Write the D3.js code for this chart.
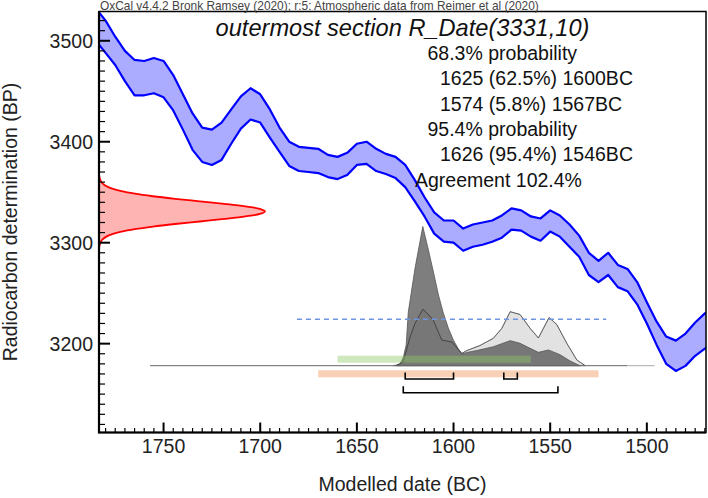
<!DOCTYPE html>
<html><head><meta charset="utf-8">
<script src="https://cdn.jsdelivr.net/npm/d3@7"></script>
<style>
body{margin:0;background:#fff}
svg{display:block}
text{font-family:"Liberation Sans",Arial,sans-serif}
</style>
</head><body>
<svg id="chart" width="708" height="498"></svg>
<script>
// ---------- data ----------
const calYears = [1785,1780,1775,1770,1765,1760,1755,1750,1745,1740,1735,1730,1725,1720,1715,1710,1705,1700,1695,1690,1685,1680,1675,1670,1665,1660,1655,1650,1645,1640,1635,1630,1625,1620,1615,1610,1605,1600,1595,1590,1585,1580,1575,1570,1565,1560,1555,1550,1545,1540,1535,1530,1525,1520,1515,1510,1505,1500,1495,1490,1485,1480,1475,1470,1465];
const calUpper = [3532,3520,3504,3490,3481,3480,3483,3480,3466,3447,3428,3414,3412,3419,3432,3445,3453,3447,3432,3414,3400,3395,3394,3393,3387,3385,3389,3398,3400,3393,3388,3385,3377,3362,3345,3330,3322,3322,3314,3318,3320,3322,3327,3334,3332,3326,3324,3332,3327,3318,3307,3290,3282,3290,3278,3274,3261,3241,3222,3207,3203,3210,3221,3230,3237];
const calLower = [3500,3488,3476,3460,3446,3446,3448,3444,3431,3412,3392,3380,3377,3382,3398,3413,3422,3419,3404,3390,3376,3371,3370,3369,3365,3363,3367,3377,3378,3371,3368,3364,3355,3341,3326,3309,3301,3300,3292,3296,3298,3301,3305,3313,3312,3306,3302,3311,3306,3296,3286,3268,3261,3268,3256,3252,3239,3220,3199,3180,3173,3178,3188,3195,3201];

const rDateBP   = [3296,3298.5,3301,3303.5,3306,3308.5,3311,3313.5,3316,3318.5,3321,3323.5,3326,3328.5,3331,3333.5,3336,3338.5,3341,3343.5,3346,3348.5,3351,3353.5,3356,3358.5,3361,3363.5,3366];
const rDateProb = [0.002,0.005,0.011,0.023,0.044,0.080,0.135,0.216,0.325,0.458,0.607,0.755,0.882,0.969,1,0.969,0.882,0.755,0.607,0.458,0.325,0.216,0.135,0.080,0.044,0.023,0.011,0.005,0.002];

const likeYears = [1629.7,1626.1,1622.5,1619.9,1615.9,1613.2,1610.4,1608.1,1606.1,1600.9,1595.7,1593.1,1586.3,1579.4,1575.0,1570.7,1565.6,1560.4,1556.1,1550.6,1546.6,1541.4,1536.2,1531.9];
const likeProb  = [0,0.027,0.206,0.305,0.405,0.371,0.325,0.249,0.185,0.170,0.088,0.109,0.145,0.197,0.269,0.388,0.368,0.269,0.199,0.346,0.296,0.161,0.041,0];

const postYears = [1631,1627.7,1625.9,1624.5,1623.4,1619.9,1615.9,1613.0,1610.4,1607.8,1605.3,1602.7,1600.1,1597.8,1595.7,1593.1,1588.0,1579.4,1570.7,1565.6,1560.4,1556.1,1550.9,1544.9,1539.7,1534.5];
const postProb  = [0,0.012,0.063,0.149,0.386,0.702,1,0.831,0.673,0.508,0.379,0.271,0.185,0.127,0.084,0.095,0.109,0.136,0.180,0.161,0.125,0.096,0.113,0.079,0.034,0];

const xTicksMajor = [1750,1700,1650,1600,1550,1500];
const yTicksMajor = [3500,3400,3300,3200];
const range68 = [[1625,1600],[1574,1567]];
const range95 = [[1626,1546]];
const greenRange = [1660,1560];
const orangeRange = [1670,1525];
const dashedRange = [1681,1521];
const dashedLevel = 0.334;
const baselineDark = [1757,1510];
const baselineLight = [1510,1496];

const headerText = "OxCal v4.4.2 Bronk Ramsey (2020); r:5: Atmospheric data from Reimer et al (2020)";
const titleText = "outermost section R_Date(3331,10)";
const infoLines = ["68.3% probability","1625 (62.5%) 1600BC","1574 (5.8%) 1567BC","95.4% probability","1626 (95.4%) 1546BC","Agreement 102.4%"];
const infoIndent = [1,2,2,1,2,0];
const xLabel = "Modelled date (BC)";
const yLabel = "Radiocarbon determination (BP)";

// ---------- layout ----------
const L = 99, R = 706, T = 11.5, B = 432.5;
const svg = d3.select("#chart");
const x = d3.scaleLinear().domain([1783.4, 1469.4]).range([L, R]);
const y = d3.scaleLinear().domain([3112, 3529]).range([B, T]);
const distBase = 365.7, distH = 139.2;
const dy = d3.scaleLinear().domain([0, 1]).range([distBase, distBase - distH]);
const rx = d3.scaleLinear().domain([0, 1]).range([L, L + 166]);

svg.append("defs").append("clipPath").attr("id","clip")
  .append("rect").attr("x",L).attr("y",T).attr("width",R-L).attr("height",B-T);
const g = svg.append("g").attr("clip-path","url(#clip)");

// orange bar
g.append("rect").attr("x",x(orangeRange[0])).attr("width",x(orangeRange[1])-x(orangeRange[0]))
  .attr("y",370.3).attr("height",7).attr("fill","rgb(240,150,90)").attr("fill-opacity",0.45);

// distributions
const like = likeYears.map((d,i)=>({yr:d,p:likeProb[i]}));
const post = postYears.map((d,i)=>({yr:d,p:postProb[i]}));
const area = d3.area().x(d=>x(d.yr)).y0(distBase).y1(d=>dy(d.p));
const line = d3.line().x(d=>x(d.yr)).y(d=>dy(d.p));
g.append("path").datum(like).attr("d",area).attr("fill","#e2e2e2").attr("stroke","#999").attr("stroke-width",0.8);
g.append("path").datum(post).attr("d",area).attr("fill","#555").attr("fill-opacity",0.76).attr("stroke","#555").attr("stroke-width",0.8);
g.append("path").datum(like).attr("d",line).attr("fill","none").attr("stroke","#333").attr("stroke-width",0.8).attr("stroke-opacity",0.8);

// green bar
g.append("rect").attr("x",x(greenRange[0])).attr("width",x(greenRange[1])-x(greenRange[0]))
  .attr("y",355.7).attr("height",7).attr("fill","rgb(140,200,100)").attr("fill-opacity",0.42);

// baseline
g.append("line").attr("x1",x(baselineDark[0])).attr("x2",x(baselineDark[1])).attr("y1",distBase).attr("y2",distBase)
  .attr("stroke","#666").attr("stroke-width",1);
g.append("line").attr("x1",x(baselineLight[0])).attr("x2",x(baselineLight[1])).attr("y1",distBase).attr("y2",distBase)
  .attr("stroke","#aaa").attr("stroke-width",1);

// dashed line
g.append("line").attr("x1",x(dashedRange[0])).attr("x2",x(dashedRange[1])).attr("y1",dy(dashedLevel)).attr("y2",dy(dashedLevel))
  .attr("stroke","#6f93dd").attr("stroke-width",1.4).attr("stroke-dasharray","5,4");

// brackets
function bracket(r, yy){
  g.append("path").attr("d",`M${x(r[0])},${yy-6.5}V${yy}H${x(r[1])}V${yy-6.5}`)
   .attr("fill","none").attr("stroke","#000").attr("stroke-width",1.6);
}
range68.forEach(r=>bracket(r,379));
range95.forEach(r=>bracket(r,392.7));

// red R_Date distribution
const rd = rDateBP.map((d,i)=>({bp:d,p:rDateProb[i]}));
g.append("path").datum(rd)
  .attr("d",d3.area().y(d=>y(d.bp)).x0(L).x1(d=>rx(d.p)).curve(d3.curveCatmullRom))
  .attr("fill","#ffb4b4").attr("stroke","none");
g.append("path").datum(rd)
  .attr("d",d3.line().y(d=>y(d.bp)).x(d=>rx(d.p)).curve(d3.curveCatmullRom))
  .attr("fill","none").attr("stroke","#ff0000").attr("stroke-width",1.8);

// calibration curve band
const cal = calYears.map((d,i)=>({yr:d,u:calUpper[i],l:calLower[i]}));
g.append("path").datum(cal)
  .attr("d",d3.area().x(d=>x(d.yr)).y0(d=>y(d.l)).y1(d=>y(d.u)))
  .attr("fill","#ababff");
["u","l"].forEach(k=>{
  g.append("path").datum(cal)
    .attr("d",d3.line().x(d=>x(d.yr)).y(d=>y(d[k])))
    .attr("fill","none").attr("stroke","#0000ff").attr("stroke-width",2.2).attr("stroke-linejoin","round");
});

// frame
svg.append("rect").attr("x",L).attr("y",T).attr("width",R-L).attr("height",B-T)
  .attr("fill","none").attr("stroke","#000").attr("stroke-width",1.5);
svg.append("path").attr("d",`M${L},${T}V${B}H${R}`).attr("fill","none").attr("stroke","#000").attr("stroke-width",2.2);

// y ticks (inside)
const yAll = d3.range(3120, 3530, 10);
svg.append("g").selectAll("line").data(yAll).join("line")
  .attr("x1",L).attr("x2",d=>L+(yTicksMajor.includes(d)?11:6))
  .attr("y1",d=>y(d)).attr("y2",d=>y(d)).attr("stroke","#000").attr("stroke-width",d=>yTicksMajor.includes(d)?2:1.2);
svg.append("g").selectAll("text").data(yTicksMajor).join("text")
  .attr("x",93).attr("y",d=>y(d)+7).attr("text-anchor","end").attr("font-size",19.5).attr("fill","#222").text(d=>d);

// x ticks (inside)
const xAll = d3.range(1470, 1785, 5);
svg.append("g").selectAll("line").data(xAll).join("line")
  .attr("x1",d=>x(d)).attr("x2",d=>x(d)).attr("y1",B).attr("y2",d=>B-(xTicksMajor.includes(d)?10:4.5))
  .attr("stroke","#000").attr("stroke-width",d=>xTicksMajor.includes(d)?2:1.2);
svg.append("g").selectAll("text").data(xTicksMajor).join("text")
  .attr("x",d=>x(d)).attr("y",452.5).attr("text-anchor","middle").attr("font-size",19.5).attr("fill","#222").text(d=>d);

// axis titles
svg.append("text").attr("x",(L+R)/2).attr("y",491).attr("text-anchor","middle").attr("font-size",19.5).attr("fill","#222").text(xLabel);
svg.append("text").attr("transform",`translate(17,${(T+B)/2}) rotate(-90)`).attr("text-anchor","middle").attr("font-size",19.5).attr("fill","#222").text(yLabel);

// header & title
svg.append("text").attr("x",100).attr("y",10).attr("font-size",11.9).attr("fill","#444").text(headerText);
svg.append("text").attr("x",(L+R)/2).attr("y",36).attr("text-anchor","middle").attr("font-size",23.6).attr("font-style","italic").attr("fill","#111").text(titleText);

// info block
svg.append("g").selectAll("text").data(infoLines).join("text")
  .attr("x",(d,i)=>415+infoIndent[i]*12.5).attr("y",(d,i)=>60+i*25.3)
  .attr("font-size",19.5).attr("fill","#111").text(d=>d);
</script>
</body></html>
